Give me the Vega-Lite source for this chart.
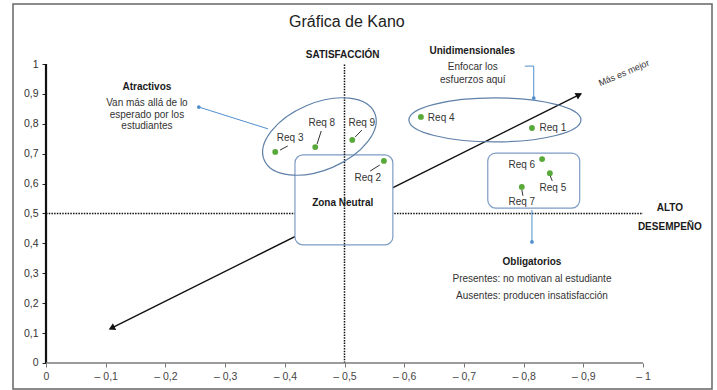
{
  "$schema": "https://vega.github.io/schema/vega-lite/v6.json",
  "width": 699,
  "height": 385,
  "autosize": {"type": "none"},
  "padding": {"left": 13, "top": 4, "right": 5, "bottom": 1},
  "background": "white",
  "config": {"view": {"stroke": "#666666", "strokeWidth": 1.5}, "font": "Liberation Sans"},
  "datasets": {
    "lines": [
      {"kind": "hdot", "x": 0, "y": 0.5, "x2": -1, "y2": 0.5},
      {"kind": "vdot", "x": -0.5, "y": 0, "x2": -0.5, "y2": 1},
      {"kind": "arrow", "x": -0.107, "y": 0.114, "x2": -0.896, "y2": 0.9},
      {"kind": "yaxis", "x": 0, "y": 0, "x2": 0, "y2": 1},
      {"kind": "xaxis", "x": 0, "y": 0, "x2": -1, "y2": 0},
      {"kind": "callout", "x": -0.372, "y": 0.783, "x2": -0.256, "y2": 0.856},
      {"kind": "callout", "x": -0.802, "y": 0.993, "x2": -0.817, "y2": 0.993},
      {"kind": "callout", "x": -0.817, "y": 0.993, "x2": -0.817, "y2": 0.886},
      {"kind": "callout", "x": -0.814, "y": 0.512, "x2": -0.814, "y2": 0.405},
      {"kind": "leader", "x": -0.392, "y": 0.712, "x2": -0.405, "y2": 0.726},
      {"kind": "leader", "x": -0.454, "y": 0.732, "x2": -0.461, "y2": 0.776},
      {"kind": "leader", "x": -0.518, "y": 0.756, "x2": -0.529, "y2": 0.779},
      {"kind": "leader", "x": -0.559, "y": 0.662, "x2": -0.543, "y2": 0.642},
      {"kind": "leader", "x": -0.844, "y": 0.629, "x2": -0.848, "y2": 0.609},
      {"kind": "leader", "x": -0.797, "y": 0.579, "x2": -0.799, "y2": 0.559}
    ],
    "boxes": [
      {"zone": "Zona Neutral", "x": -0.417, "x2": -0.581, "y": 0.395, "y2": 0.696},
      {"zone": "Obligatorios", "x": -0.74, "x2": -0.894, "y": 0.518, "y2": 0.702}
    ],
    "ellipses": [
      {"group": "Atractivos", "x": -0.458, "y": 0.7575},
      {"group": "Unidimensionales", "x": -0.752, "y": 0.813}
    ],
    "dots": [
      {"x": -0.256, "y": 0.856},
      {"x": -0.817, "y": 0.886},
      {"x": -0.814, "y": 0.405}
    ],
    "heads": [
      {"end": "up", "x": -0.893, "y": 0.897},
      {"end": "down", "x": -0.11, "y": 0.117}
    ],
    "reqs": [
      {"req": "Req 1", "x": -0.814, "y": 0.786, "lx": -0.849, "ly": 0.786},
      {"req": "Req 2", "x": -0.566, "y": 0.676, "lx": -0.539, "ly": 0.619},
      {"req": "Req 3", "x": -0.384, "y": 0.706, "lx": -0.409, "ly": 0.753},
      {"req": "Req 4", "x": -0.628, "y": 0.823, "lx": -0.662, "ly": 0.819},
      {"req": "Req 5", "x": -0.844, "y": 0.635, "lx": -0.849, "ly": 0.585},
      {"req": "Req 6", "x": -0.831, "y": 0.682, "lx": -0.797, "ly": 0.662},
      {"req": "Req 7", "x": -0.797, "y": 0.589, "lx": -0.797, "ly": 0.538},
      {"req": "Req 8", "x": -0.451, "y": 0.722, "lx": -0.462, "ly": 0.803},
      {"req": "Req 9", "x": -0.513, "y": 0.746, "lx": -0.529, "ly": 0.803}
    ],
    "texts": [
      {"role": "title", "text": "Gráfica de Kano", "x": -0.504, "y": 1.14},
      {"role": "heading", "text": "SATISFACCIÓN", "x": -0.497, "y": 1.03},
      {"role": "heading", "text": "Atractivos", "x": -0.169, "y": 0.923},
      {"role": "heading", "text": "Unidimensionales", "x": -0.714, "y": 1.043},
      {"role": "heading", "text": "Zona Neutral", "x": -0.497, "y": 0.535},
      {"role": "heading", "text": "ALTO", "x": -1.045, "y": 0.518},
      {"role": "heading", "text": "DESEMPEÑO", "x": -1.045, "y": 0.455},
      {"role": "heading", "text": "Obligatorios", "x": -0.814, "y": 0.338},
      {"role": "note", "text": "Van más allá de lo", "x": -0.169, "y": 0.87},
      {"role": "note", "text": "esperado por los", "x": -0.169, "y": 0.829},
      {"role": "note", "text": "estudiantes", "x": -0.169, "y": 0.793},
      {"role": "note", "text": "Enfocar los", "x": -0.715, "y": 0.99},
      {"role": "note", "text": "esfuerzos aquí", "x": -0.715, "y": 0.946},
      {"role": "note", "text": "Presentes: no motivan al estudiante", "x": -0.814, "y": 0.281},
      {"role": "note", "text": "Ausentes: producen insatisfacción", "x": -0.814, "y": 0.224},
      {"role": "slanted", "text": "Más es mejor", "x": -0.968, "y": 0.97}
    ]
  },
  "encoding": {
    "x": {
      "field": "x", "type": "quantitative", "title": null,
      "scale": {"domain": [-1.1156, 0.0553], "reverse": true, "nice": false, "zero": false},
      "axis": {
        "values": [0, -0.1, -0.2, -0.3, -0.4, -0.5, -0.6, -0.7, -0.8, -0.9, -1],
        "offset": -26, "domain": false, "grid": false, "tickSize": 4, "tickColor": "#777777",
        "labelColor": "#444444", "labelFontSize": 10.5, "labelPadding": 4, "labelFlush": false,
        "labelExpr": "datum.value == 0 ? '0' : '– ' + replace(format(-datum.value, '.1~f'), '.', ',')"
      }
    },
    "y": {
      "field": "y", "type": "quantitative", "title": null,
      "scale": {"domain": [-0.087, 1.2007], "nice": false, "zero": false},
      "axis": {
        "values": [0, 0.1, 0.2, 0.3, 0.4, 0.5, 0.6, 0.7, 0.8, 0.9, 1],
        "offset": -33, "domain": false, "grid": false, "tickSize": 4, "tickColor": "#222222",
        "labelColor": "#333333", "labelFontSize": 10.5, "labelPadding": 4, "labelFlush": false,
        "labelExpr": "replace(format(datum.value, '.1~f'), '.', ',')"
      }
    }
  },
  "layer": [
    {
      "data": {"name": "lines"},
      "transform": [{"filter": "datum.kind == 'hdot'"}],
      "mark": {"type": "rule", "color": "#111111", "strokeWidth": 1.5, "strokeDash": [1.5, 1.2]},
      "encoding": {"x2": {"field": "x2"}, "y2": {"field": "y2"}}
    },
    {
      "data": {"name": "lines"},
      "transform": [{"filter": "datum.kind == 'arrow'"}],
      "mark": {"type": "rule", "color": "#111111", "strokeWidth": 1.5},
      "encoding": {"x2": {"field": "x2"}, "y2": {"field": "y2"}}
    },
    {
      "data": {"name": "boxes"},
      "mark": {"type": "rect", "fill": "white", "stroke": "#7d9cc4", "strokeWidth": 1.2, "cornerRadius": 8},
      "encoding": {"x2": {"field": "x2"}, "y2": {"field": "y2"}}
    },
    {
      "data": {"name": "lines"},
      "transform": [{"filter": "datum.kind == 'vdot'"}],
      "mark": {"type": "rule", "color": "#111111", "strokeWidth": 1.5, "strokeDash": [1.5, 1.2]},
      "encoding": {"x2": {"field": "x2"}, "y2": {"field": "y2"}}
    },
    {
      "data": {"name": "ellipses"},
      "transform": [{"filter": "datum.group == 'Atractivos'"}],
      "mark": {"type": "point", "shape": "M-1,0A1,0.558,0,1,1,1,0A1,0.558,0,1,1,-1,0Z", "size": 14400, "angle": 337, "filled": false, "stroke": "#5f80a8", "strokeWidth": 1.2, "opacity": 1}
    },
    {
      "data": {"name": "ellipses"},
      "transform": [{"filter": "datum.group == 'Unidimensionales'"}],
      "mark": {"type": "point", "shape": "M-1,0A1,0.256,0,1,1,1,0A1,0.256,0,1,1,-1,0Z", "size": 29584, "angle": 0, "filled": false, "stroke": "#5f80a8", "strokeWidth": 1.2, "opacity": 1}
    },
    {
      "data": {"name": "lines"},
      "transform": [{"filter": "datum.kind == 'yaxis'"}],
      "mark": {"type": "rule", "color": "#111111", "strokeWidth": 2.2},
      "encoding": {"x2": {"field": "x2"}, "y2": {"field": "y2"}}
    },
    {
      "data": {"name": "lines"},
      "transform": [{"filter": "datum.kind == 'xaxis'"}],
      "mark": {"type": "rule", "color": "#7a7a7a", "strokeWidth": 1.5},
      "encoding": {"x2": {"field": "x2"}, "y2": {"field": "y2"}}
    },
    {
      "data": {"name": "lines"},
      "transform": [{"filter": "datum.kind == 'callout'"}],
      "mark": {"type": "rule", "color": "#4f8fd0", "strokeWidth": 1},
      "encoding": {"x2": {"field": "x2"}, "y2": {"field": "y2"}}
    },
    {
      "data": {"name": "dots"},
      "mark": {"type": "circle", "color": "#4f8fd0", "size": 14, "opacity": 1}
    },
    {
      "data": {"name": "lines"},
      "transform": [{"filter": "datum.kind == 'leader'"}],
      "mark": {"type": "rule", "color": "#333333", "strokeWidth": 1},
      "encoding": {"x2": {"field": "x2"}, "y2": {"field": "y2"}}
    },
    {
      "data": {"name": "reqs"},
      "mark": {"type": "circle", "color": "#58a83a", "size": 34, "opacity": 1}
    },
    {
      "data": {"name": "heads"},
      "transform": [{"filter": "datum.end == 'up'"}],
      "mark": {"type": "point", "shape": "triangle-up", "size": 55, "angle": 63.5, "filled": true, "color": "#111111", "opacity": 1}
    },
    {
      "data": {"name": "heads"},
      "transform": [{"filter": "datum.end == 'down'"}],
      "mark": {"type": "point", "shape": "triangle-up", "size": 55, "angle": 243.5, "filled": true, "color": "#111111", "opacity": 1}
    },
    {
      "data": {"name": "reqs"},
      "mark": {"type": "text", "fontSize": 10, "color": "#333333", "align": "center", "baseline": "middle"},
      "encoding": {
        "x": {"field": "lx", "type": "quantitative"},
        "y": {"field": "ly", "type": "quantitative"},
        "text": {"field": "req"}
      }
    },
    {
      "data": {"name": "texts"},
      "transform": [{"filter": "datum.role == 'title'"}],
      "mark": {"type": "text", "fontSize": 16, "color": "#222222", "align": "center", "baseline": "middle"},
      "encoding": {"text": {"field": "text"}}
    },
    {
      "data": {"name": "texts"},
      "transform": [{"filter": "datum.role == 'heading'"}],
      "mark": {"type": "text", "fontSize": 10, "fontWeight": "bold", "color": "#1a1a1a", "align": "center", "baseline": "middle"},
      "encoding": {"text": {"field": "text"}}
    },
    {
      "data": {"name": "texts"},
      "transform": [{"filter": "datum.role == 'note'"}],
      "mark": {"type": "text", "fontSize": 10, "color": "#333333", "align": "center", "baseline": "middle"},
      "encoding": {"text": {"field": "text"}}
    },
    {
      "data": {"name": "texts"},
      "transform": [{"filter": "datum.role == 'slanted'"}],
      "mark": {"type": "text", "fontSize": 9, "color": "#333333", "align": "center", "baseline": "middle", "angle": 337},
      "encoding": {"text": {"field": "text"}}
    }
  ]
}
